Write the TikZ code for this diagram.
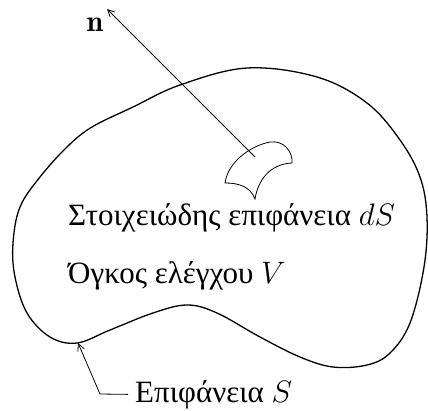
\documentclass[tikz,border=0pt]{standalone}
\usepackage{fix-cm}
\usepackage{fontspec}
\newfontfamily\gr{Liberation Serif}
\usetikzlibrary{arrows.meta}
\tikzset{
  outline/.style={line width=1.3pt, line join=round},
  thin/.style={line width=0.8pt},
  barb/.style={-{Straight Barb[length=7pt,width=7pt]}},
  lbl/.style={anchor=base west, inner sep=0pt, font=\fontsize{31}{36}\selectfont\gr}
}
\begin{document}
\begin{tikzpicture}[x=1pt,y=-1pt]
\useasboundingbox (0,0) rectangle (428,410);
% control volume outline
\draw[outline] plot[smooth cycle, tension=0.6] coordinates {
 (92,127) (133,107) (180,85) (247,68) (317,77) (367,103) (400,140) (420,177)
 (427,217) (424,267) (410,323) (390,353) (367,365) (333,367) (300,357) (260,337)
 (217,313) (187,305) (153,313) (110,330) (77,343) (50,337) (27,313) (15,277)
 (13,243) (20,207) (40,177) (67,147)};
% surface element
\coordinate (p1) at (225,183);
\coordinate (p2) at (270,142);
\coordinate (p3) at (292,163);
\coordinate (p4) at (255,199);
\draw[thin] (p1) .. controls (228,162) and (250,146) .. (p2)
  .. controls (284,140) and (293,152) .. (p3)
  .. controls (270,164) and (258,180) .. (p4)
  .. controls (250,186) and (238,183) .. (p1) -- cycle;
\coordinate (foot) at (255,157);
\coordinate (tip) at (107,9);
\draw[thin, barb] (foot) -- (tip);
\node[inner sep=0pt, font=\fontsize{30}{34}\selectfont] (n) at (95,25) {$\mathbf{n}$};
% labels
\node[lbl] (ds) at (68,225) {Στοιχειώδης επιφάνεια $dS$};
\node[lbl] (vol) at (68,283) {Όγκος ελέγχου $V$};
\node[lbl] (surf) at (135,402) {Επιφάνεια $S$};
\coordinate (s) at (78,343);
\coordinate (bend) at (100,394);
\draw[thin, barb] ([xshift=-7pt]surf.west) -- (bend) -- (s);
\end{tikzpicture}
\end{document}
